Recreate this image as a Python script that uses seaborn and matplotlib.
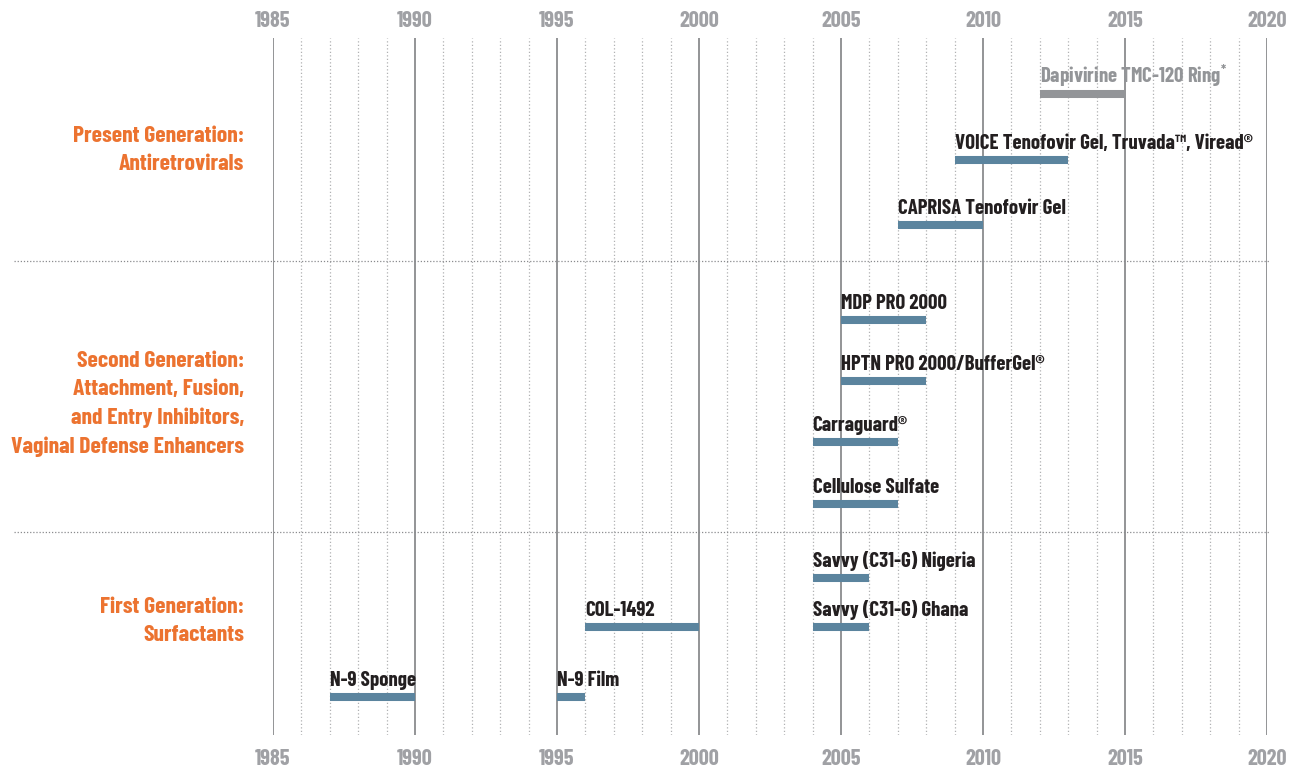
import pandas as pd
import seaborn as sb
import matplotlib.pyplot as plt

# trials: label, start year, end year, row (top = 0), colour kind
labels = [
    "Dapivirine TMC-120 Ring$^{*}$",
    "VOICE Tenofovir Gel, Truvada\u2122, Viread\u00ae",
    "CAPRISA Tenofovir Gel",
    "MDP PRO 2000",
    "HPTN PRO 2000/BufferGel\u00ae",
    "Carraguard\u00ae",
    "Cellulose Sulfate",
    "Savvy (C31-G) Nigeria",
    "Savvy (C31-G) Ghana",
    "COL-1492",
    "N-9 Sponge",
    "N-9 Film",
]
starts = [2012, 2009, 2007, 2005, 2005, 2004, 2004, 2004, 2004, 1996, 1987, 1995]
ends = [2015, 2013, 2010, 2008, 2008, 2007, 2007, 2006, 2006, 2000, 1990, 1996]
rows = [0.80, 1.75, 2.68, 4.05, 4.92, 5.80, 6.69, 7.75, 8.45, 8.45, 9.45, 9.45]
kinds = ["ongoing"] + ["done"] * 11

groups = [
    "Present Generation:\nAntiretrovirals",
    "Second Generation:\nAttachment, Fusion,\nand Entry Inhibitors,\nVaginal Defense Enhancers",
    "First Generation:\nSurfactants",
]
group_rows = [1.61, 5.25, 8.36]
separators = [3.20, 7.09]

year_ticks = list(range(1985, 2021, 5))

FONT = ["Barlow Condensed", "Roboto Condensed", "DejaVu Sans"]
BAR_BLUE = "#5b849e"
BAR_GRAY = "#939598"
ORANGE = "#ec7330"
TICK_GRAY = "#a0a1a5"


def plot_timeline():
    sb.set_style("white")
    plt.rcParams["font.family"] = FONT
    plt.rcParams["font.weight"] = "bold"
    plt.rcParams["mathtext.default"] = "regular"

    long = []
    for i, (s, e) in enumerate(zip(starts, ends)):
        long.append({"item": i, "year": s, "row": rows[i], "kind": kinds[i]})
        long.append({"item": i, "year": e, "row": rows[i], "kind": kinds[i]})
    df = pd.DataFrame(long)

    fig = plt.figure(figsize=(12.96, 7.74), dpi=100)
    ax = fig.add_axes([0.2106, 0.0504, 0.767, 0.9005])

    # year grid
    for y in range(1985, 2021):
        if y % 5 == 0:
            ax.axvline(y, color="#8a8b8e", lw=1.3, zorder=1)
        else:
            ax.axvline(y, color="#b0b1b3", lw=0.9, ls=(0, (1.0, 1.8)), zorder=1)

    sb.lineplot(
        data=df, x="year", y="row", units="item", estimator=None,
        hue="kind", palette={"done": BAR_BLUE, "ongoing": BAR_GRAY},
        linewidth=5.8, solid_capstyle="butt", legend=False, ax=ax, zorder=3,
    )

    for lab, s, r, k in zip(labels, starts, rows, kinds):
        ax.annotate(
            lab, (s, r), xytext=(0, 11), textcoords="offset pixels",
            ha="left", va="baseline", fontsize=15, fontweight="bold",
            color=BAR_GRAY if k == "ongoing" else "#231f20", zorder=4,
        )

    for g, r in zip(groups, group_rows):
        ax.text(
            -0.029, r, g, transform=ax.get_yaxis_transform(), ha="right",
            va="center", fontsize=17, fontweight="bold", color=ORANGE,
            linespacing=1.5,
        )

    for r in separators:
        ax.plot([-0.26, 1.003], [r, r], transform=ax.get_yaxis_transform(),
                color="#8a8b8e", lw=0.9, ls=(0, (1, 1.5)), clip_on=False)

    ax.set_xlim(1985, 2020)
    ax.set_ylim(10, 0)
    ax.set_xticks(year_ticks)
    ax.set_yticks([])
    ax.tick_params(axis="x", length=0, pad=10, labelsize=16,
                   labelcolor=TICK_GRAY)
    top = ax.secondary_xaxis("top")
    top.set_xticks(year_ticks)
    top.tick_params(axis="x", length=0, pad=5, labelsize=16,
                    labelcolor=TICK_GRAY)
    top.spines["top"].set_visible(False)
    for t in ax.get_xticklabels() + top.get_xticklabels():
        t.set_fontweight("bold")
    ax.set_xlabel("")
    ax.set_ylabel("")
    sb.despine(ax=ax, left=True, bottom=True)

    fig.savefig("out.png", dpi=100)
    print("[INFO] Created out.png")


def main():
    plot_timeline()


if __name__ == "__main__":
    main()
